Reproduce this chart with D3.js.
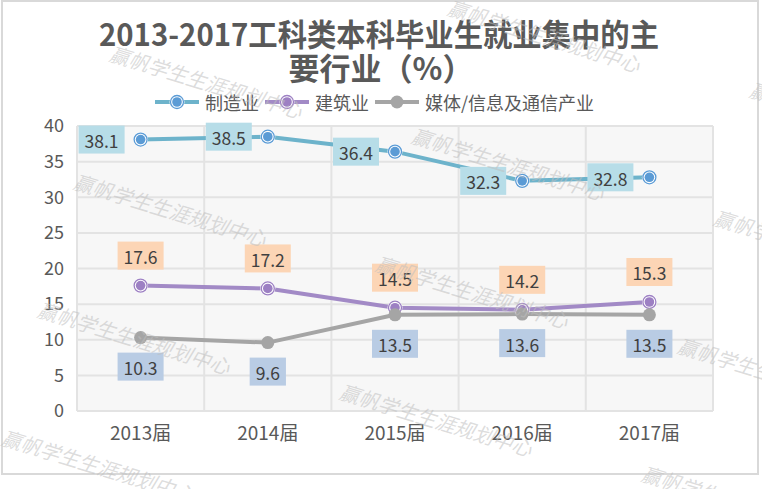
<!DOCTYPE html>
<html><head><meta charset="utf-8">
<script src="https://cdn.jsdelivr.net/npm/d3@7/dist/d3.min.js"></script>
<style>
html,body{margin:0;padding:0;background:#fff;}
svg{display:block;}
text{font-family:"Noto Sans CJK SC","Noto Sans",sans-serif;}
</style></head>
<body>
<svg id="chart" width="762" height="489"></svg>
<script>
const titleLines = ["2013-2017工科类本科毕业生就业集中的主", "要行业（%）"];
const categories = ["2013届", "2014届", "2015届", "2016届", "2017届"];
const seriesNames = ["制造业", "建筑业", "媒体/信息及通信产业"];
const manufacturing = [38.1, 38.5, 36.4, 32.3, 32.8];
const construction = [17.6, 17.2, 14.5, 14.2, 15.3];
const media = [10.3, 9.6, 13.5, 13.6, 13.5];
const yTicks = [0, 5, 10, 15, 20, 25, 30, 35, 40];
const watermarkText = "赢帆学生生涯规划中心";

const series = [
  {name: seriesNames[0], values: manufacturing, line: "#6db3cb", marker: "#5b9bd5", ring: true, box: "#b7dde8", pos: "left"},
  {name: seriesNames[1], values: construction, line: "#a28ac6", marker: "#9d80c3", ring: true, box: "#fcd5b5", pos: "above"},
  {name: seriesNames[2], values: media, line: "#a5a5a5", marker: "#a5a5a5", ring: false, box: "#b9cce4", pos: "below"}
];

const svg = d3.select("#chart");
const W = 762, H = 489;
const plot = {left: 77, right: 713, top: 126, bottom: 411};

// frame
svg.append("rect").attr("x", 0).attr("y", 0).attr("width", W).attr("height", H).attr("fill", "#fff");
svg.append("rect").attr("x", 2).attr("y", 1).attr("width", 756).attr("height", 473)
  .attr("fill", "#fff").attr("stroke", "#d9d9d9").attr("stroke-width", 2);

// title
const title = svg.append("g");
title.append("text").attr("x", 379).attr("y", 46)
  .attr("text-anchor", "middle").attr("font-size", 31).attr("font-weight", "bold")
  .attr("textLength", 560).attr("lengthAdjust", "spacingAndGlyphs")
  .attr("fill", "#595959").text(titleLines[0]);
title.append("text").attr("x", 381).attr("y", 80)
  .attr("text-anchor", "middle").attr("font-size", 31).attr("font-weight", "bold")
  .attr("fill", "#595959").text(titleLines[1]);

const x = d3.scaleBand().domain(categories).range([plot.left, plot.right]).padding(0);
const cx = c => x(c) + x.bandwidth() / 2;
const y = d3.scaleLinear().domain([0, 40]).range([plot.bottom, plot.top]);

// plot background
svg.append("rect").attr("x", plot.left).attr("y", plot.top)
  .attr("width", plot.right - plot.left).attr("height", plot.bottom - plot.top).attr("fill", "#f7f7f7");

// horizontal grid
svg.append("g").selectAll("line").data(yTicks).join("line")
  .attr("x1", plot.left).attr("x2", plot.right)
  .attr("y1", d => y(d)).attr("y2", d => y(d))
  .attr("stroke", "#e3e3e3").attr("stroke-width", 2);
// vertical grid at band edges
const edges = categories.map(c => x(c)).concat([plot.right]);
svg.append("g").selectAll("line").data(edges).join("line")
  .attr("x1", d => d).attr("x2", d => d)
  .attr("y1", plot.top).attr("y2", plot.bottom)
  .attr("stroke", "#e3e3e3").attr("stroke-width", 2);

// y axis
const yAxis = svg.append("g").attr("transform", `translate(${plot.left - 13},0)`)
  .call(d3.axisLeft(y).tickValues(yTicks).tickSize(0).tickPadding(0));
yAxis.select(".domain").remove();
yAxis.selectAll("text").attr("font-size", 18).attr("fill", "#595959")
  .style("font-family", '"Noto Sans CJK SC",sans-serif');

// x axis
const xAxis = svg.append("g").attr("transform", `translate(0,${plot.bottom + 15})`)
  .call(d3.axisBottom(x).tickSize(0).tickPadding(0));
xAxis.select(".domain").remove();
xAxis.selectAll("text").attr("font-size", 19).attr("fill", "#595959")
  .style("font-family", '"Noto Sans CJK SC",sans-serif');

// lines
const lineGen = d3.line().x((d, i) => cx(categories[i])).y(d => y(d));
series.forEach(s => {
  svg.append("path").datum(s.values).attr("d", lineGen)
    .attr("fill", "none").attr("stroke", s.line).attr("stroke-width", 4)
    .attr("stroke-linejoin", "round").attr("stroke-linecap", "round");
});

function drawMarker(g, px, py, s) {
  if (s.ring) {
    g.append("circle").attr("cx", px).attr("cy", py).attr("r", 7.5).attr("fill", "#fff");
    g.append("circle").attr("cx", px).attr("cy", py).attr("r", 6.5).attr("fill", "#fff")
      .attr("stroke", s.marker).attr("stroke-width", 1.3);
    g.append("circle").attr("cx", px).attr("cy", py).attr("r", 4.8).attr("fill", s.marker);
  } else {
    g.append("circle").attr("cx", px).attr("cy", py).attr("r", 6.5).attr("fill", s.marker);
  }
}

// markers
series.forEach(s => {
  const g = svg.append("g");
  s.values.forEach((v, i) => drawMarker(g, cx(categories[i]), y(v), s));
});

// data labels
series.forEach(s => {
  const g = svg.append("g");
  s.values.forEach((v, i) => {
    const px = cx(categories[i]), py = y(v);
    const lg = g.append("g");
    const t = lg.append("text").attr("font-size", 17.5).attr("fill", "#404040")
      .attr("text-anchor", "middle").attr("dominant-baseline", "central").text(v.toFixed(1));
    const tw = t.node().getComputedTextLength();
    const bw = tw + 12, bh = 28;
    let bx, by;
    if (s.pos === "left") { bx = px - 16 - bw; by = py - bh / 2; }
    else if (s.pos === "above") { bx = px - bw / 2; by = py - 16 - bh; }
    else { bx = px - bw / 2; by = py + 15; }
    lg.insert("rect", "text").attr("x", bx).attr("y", by).attr("width", bw).attr("height", bh).attr("fill", s.box);
    t.attr("x", bx + bw / 2).attr("y", by + bh / 2 + 1);
  });
});

// legend
const legendItems = [
  {s: series[0], lx: 155, tx: 205},
  {s: series[1], lx: 265, tx: 315},
  {s: series[2], lx: 375, tx: 425}
];
const ly = 102;
legendItems.forEach(it => {
  const g = svg.append("g");
  g.append("line").attr("x1", it.lx).attr("x2", it.lx + 44).attr("y1", ly).attr("y2", ly)
    .attr("stroke", it.s.line).attr("stroke-width", 4);
  drawMarker(g, it.lx + 22, ly, it.s);
  g.append("text").attr("x", it.tx).attr("y", ly).attr("dominant-baseline", "central")
    .attr("font-size", 18).attr("fill", "#595959").text(it.s.name);
});

// watermark
const wm = svg.append("g").attr("pointer-events", "none");
const base = [77, 172], va = [338, -46], vb = [-36, 128];
for (let i = -3; i <= 4; i++) {
  for (let j = -2; j <= 4; j++) {
    const px = base[0] + i * va[0] + j * vb[0];
    const py = base[1] + i * va[1] + j * vb[1];
    if (px < -260 || px > 780 || py < -120 || py > 500) continue;
    wm.append("text").attr("transform", `translate(${px},${py}) rotate(17)`)
      .attr("x", 0).attr("y", 17).attr("font-size", 20).attr("font-style", "italic")
      .attr("fill", "#bfbfbf").attr("fill-opacity", 0.55).text(watermarkText);
  }
}
</script>
</body></html>
